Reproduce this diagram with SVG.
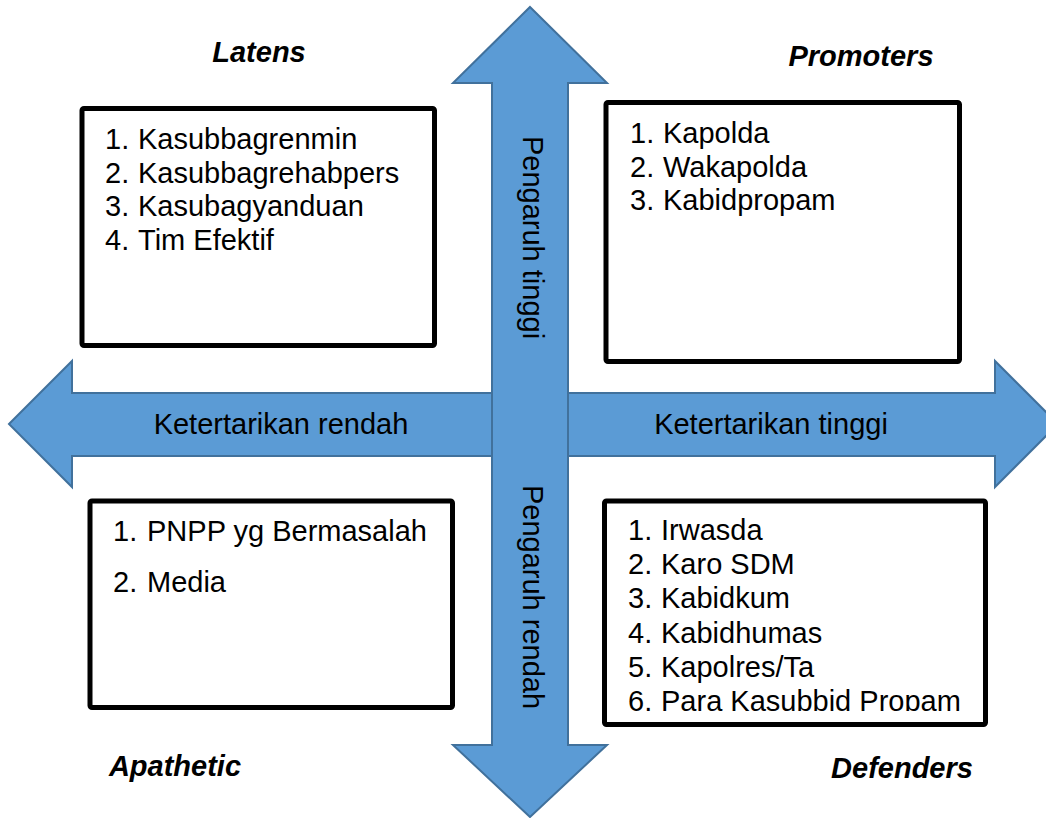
<svg xmlns="http://www.w3.org/2000/svg" width="1046" height="818" viewBox="0 0 1046 818">
<style>
.arrow{fill:#5B9BD5;stroke:#41719C;stroke-width:2;stroke-linejoin:miter}
.box{fill:#fff;stroke:#000;stroke-width:5}
.t{font-family:"Liberation Sans",Arial,sans-serif;font-size:29px;fill:#000}
.h{font-family:"Liberation Sans",Arial,sans-serif;font-size:29px;font-weight:bold;font-style:italic;fill:#000}
</style>
<defs>
<clipPath id="clipDef"><rect x="607" y="504" width="376" height="207"/></clipPath>
</defs>
<rect width="1046" height="818" fill="#fff"/>
<g id="connectors">
<polygon class="arrow" points="9,424 72,361 72,393 995,393 995,361 1058,424 995,487 995,456 72,456 72,487"/>
<polygon class="arrow" points="530,7 607,83 568,83 568,745 607,745 530,817 453,745 492,745 492,83 453,83"/>
<text class="t" x="281" y="434" text-anchor="middle">Ketertarikan rendah</text>
<text class="t" x="771" y="434" text-anchor="middle">Ketertarikan tinggi</text>
<text class="t" text-anchor="middle" transform="translate(523,237.5) rotate(90)">Pengaruh tinggi</text>
<text class="t" text-anchor="middle" transform="translate(523,597) rotate(90)">Pengaruh rendah</text>
</g>
<g id="latens">
<text class="h" x="259" y="62" text-anchor="middle">Latens</text>
<rect class="box" x="82" y="108.5" width="352.5" height="237" rx="2"/>
<text class="t" x="105" y="149">1.</text><text class="t" x="138" y="149">Kasubbagrenmin</text>
<text class="t" x="105" y="182.5">2.</text><text class="t" x="138" y="182.5">Kasubbagrehabpers</text>
<text class="t" x="105" y="216">3.</text><text class="t" x="138" y="216">Kasubagyanduan</text>
<text class="t" x="105" y="249.5">4.</text><text class="t" x="138" y="249.5">Tim Efektif</text>
</g>
<g id="promoters">
<text class="h" x="861" y="66" text-anchor="middle">Promoters</text>
<rect class="box" x="606" y="102.5" width="353.5" height="259" rx="2"/>
<text class="t" x="630" y="143">1.</text><text class="t" x="663" y="143">Kapolda</text>
<text class="t" x="630" y="176.5">2.</text><text class="t" x="663" y="176.5">Wakapolda</text>
<text class="t" x="630" y="210">3.</text><text class="t" x="663" y="210">Kabidpropam</text>
</g>
<g id="apathetic">
<rect class="box" x="90" y="501" width="362.5" height="206.5" rx="2"/>
<text class="t" x="113" y="541">1.</text><text class="t" x="147" y="541">PNPP yg Bermasalah</text>
<text class="t" x="113" y="592">2.</text><text class="t" x="147" y="592">Media</text>
<text class="h" x="175" y="776" text-anchor="middle">Apathetic</text>
</g>
<g id="defenders">
<rect class="box" x="604.5" y="501" width="381" height="223.5" rx="2"/>
<g clip-path="url(#clipDef)">
<text class="t" x="628" y="540">1.</text><text class="t" x="661" y="540">Irwasda</text>
<text class="t" x="628" y="574.2">2.</text><text class="t" x="661" y="574.2">Karo SDM</text>
<text class="t" x="628" y="608.4">3.</text><text class="t" x="661" y="608.4">Kabidkum</text>
<text class="t" x="628" y="642.6">4.</text><text class="t" x="661" y="642.6">Kabidhumas</text>
<text class="t" x="628" y="676.8">5.</text><text class="t" x="661" y="676.8">Kapolres/Ta</text>
<text class="t" x="628" y="711">6.</text><text class="t" x="661" y="711">Para Kasubbid Propam</text>
</g>
<text class="h" x="902" y="778" text-anchor="middle">Defenders</text>
</g>
</svg>
